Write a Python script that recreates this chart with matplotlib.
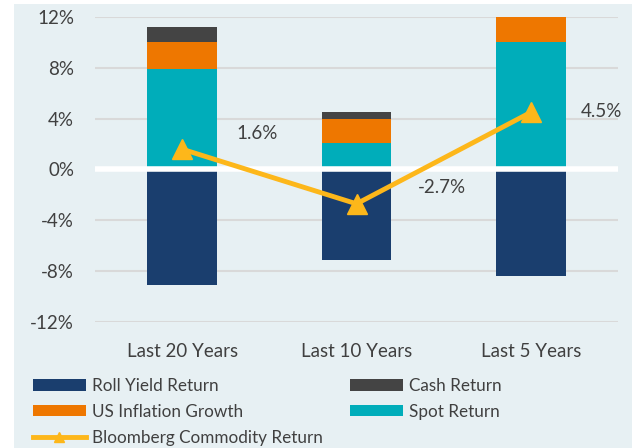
import matplotlib
matplotlib.use("Agg")
import matplotlib.pyplot as plt
from matplotlib.patches import Patch
from matplotlib.lines import Line2D

categories = ["Last 20 Years", "Last 10 Years", "Last 5 Years"]
roll_yield = [-9.1, -7.1, -8.4]
spot_return = [7.9, 2.1, 10.0]
inflation = [2.1, 1.9, 2.0]
cash_return = [1.2, 0.5, 0.0]
bcom_return = [1.6, -2.7, 4.5]
yticks = [-12, -8, -4, 0, 4, 8, 12]
label_offsets = [(39, 11.5), (44.5, 11.5), (36, 0.7)]

NAVY = "#1A3E6E"
ORANGE = "#EE7700"
TEAL = "#00ADBA"
DARK = "#444444"
GOLD = "#FDB71A"
BG = "#E7F0F3"
TXT = "#404040"

plt.rcParams['font.family'] = ['Lato', 'DejaVu Sans']

fig = plt.figure(figsize=(6.32, 4.48), dpi=100)
fig.patch.set_facecolor("white")
fig.add_artist(plt.Rectangle((14/632, 0), 1, 1 - 4/448, transform=fig.transFigure,
                             facecolor=BG, edgecolor="none", zorder=-10))

ax = fig.add_axes([95/632, 1 - 322/448, (618 - 95)/632, (322 - 17)/448])
ax.set_facecolor("none")
x = list(range(len(categories)))
w = 0.4
ax.bar(x, roll_yield, width=w, color=NAVY, zorder=2)
ax.bar(x, spot_return, width=w, color=TEAL, zorder=2)
ax.bar(x, inflation, width=w, bottom=spot_return, color=ORANGE, zorder=2)
b3 = [s + i for s, i in zip(spot_return, inflation)]
ax.bar(x, cash_return, width=w, bottom=b3, color=DARK, zorder=2)

ax.axhline(0, color="white", lw=4, zorder=3)
ax.plot(x, bcom_return, color=GOLD, lw=3.5, marker="^", markersize=14, zorder=4)

for xi, v, off in zip(x, bcom_return, label_offsets):
    ax.annotate(f"{v:.1f}%", (xi, v), xytext=off, textcoords="offset points",
                ha="left", va="center", fontsize=13.5, color=TXT)

ax.set_xlim(-0.5, 2.5)
ax.set_ylim(-12, 12)
ax.set_yticks(yticks)
ax.set_yticklabels([f"{t}%" for t in yticks])
ax.set_xticks(x)
ax.set_xticklabels(categories)
ax.tick_params(axis="both", length=0, labelsize=13.5, colors=TXT)
ax.tick_params(axis="y", pad=15)
ax.tick_params(axis="x", pad=15)
ax.grid(axis="y", color="#D9D9D9", lw=1.5, zorder=0)
for s in ax.spines.values():
    s.set_visible(False)

col1 = [
    Patch(facecolor=NAVY, label="Roll Yield Return"),
    Patch(facecolor=ORANGE, label="US Inflation Growth"),
    Line2D([0], [0], color=GOLD, lw=3.5, marker="^", markersize=7, label="Bloomberg Commodity Return"),
]
col2 = [
    Patch(facecolor=DARK, label="Cash Return"),
    Patch(facecolor=TEAL, label="Spot Return"),
]
kw = dict(loc="upper left", frameon=False, fontsize=12.3, handlelength=3.1,
          handleheight=0.62, labelspacing=0.58, handletextpad=0.35,
          borderaxespad=0, borderpad=0)
for hs, x0 in ((col1, 33), (col2, 350)):
    leg = fig.legend(handles=hs, bbox_to_anchor=(x0/632, 1 - 378/448), **kw)
    for t in leg.get_texts():
        t.set_color(TXT)

fig.savefig("out.png", dpi=100)
